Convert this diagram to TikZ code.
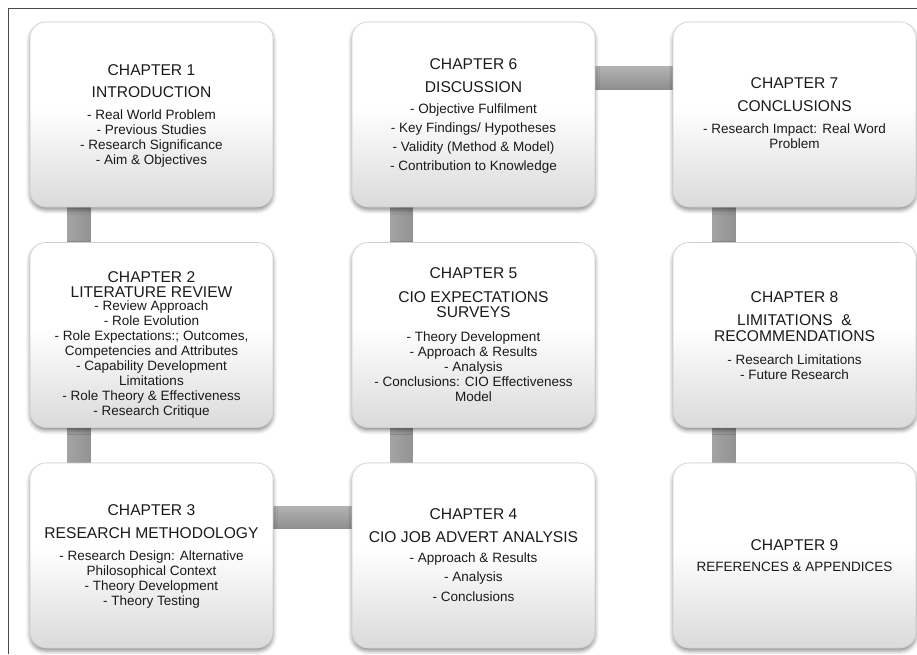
\documentclass[tikz,border=0pt]{standalone}
\usepackage{fontspec}
\setmainfont{Liberation Sans}
\usetikzlibrary{calc,shadows.blur}

\definecolor{boxbot}{HTML}{DADADA}
\definecolor{boxline}{HTML}{CFCFCF}
\definecolor{txtc}{HTML}{1A1A1A}
\definecolor{barL}{HTML}{A3A3A3}
\definecolor{barR}{HTML}{939393}
\definecolor{barT}{HTML}{B2B2B2}
\definecolor{barB}{HTML}{8E8E8E}
\definecolor{framec}{HTML}{4A4A4A}

% white upper half fading to light grey at the bottom edge
\pgfdeclareverticalshading{boxfill}{100bp}{color(0bp)=(boxbot); color(25bp)=(boxbot); color(52bp)=(white); color(100bp)=(white)}

\pgfdeclarelayer{background}
\pgfsetlayers{background,main}

\newcommand\chttl[1]{{\fontsize{15.6}{15}\selectfont #1}}

\tikzset{
  chapbox/.style={rounded corners=16pt, minimum width=243pt, minimum height=185pt,
    inner sep=0pt, shade, shading=boxfill, draw=boxline, line width=0.6pt,
    blur shadow={shadow xshift=0pt, shadow yshift=-3pt, shadow blur radius=4pt, shadow opacity=45}},
  chaptxt/.style={align=center, inner sep=0pt, text=txtc, font=\fontsize{13.5}{15}\selectfont},
  vbar/.style={left color=barL, right color=barR},
  hbar/.style={top color=barT, bottom color=barB},
}

\begin{document}
\begin{tikzpicture}[x=1pt,y=-1pt]
\useasboundingbox (0,0) rectangle (917,654);

% outer frame (top and left edges)
\draw[framec, line width=1pt] (8.5,654) -- (8.5,8.5) -- (917,8.5);

% chapter boxes
\node[chapbox] (c1) at (151.5,114.5) {};
\node[chapbox] (c6) at (473.5,114.5) {};
\node[chapbox] (c7) at (794.5,114.5) {};
\node[chapbox] (c2) at (151.5,335) {};
\node[chapbox] (c5) at (473.5,335) {};
\node[chapbox] (c8) at (794.5,335) {};
\node[chapbox] (c3) at (151.5,555.5) {};
\node[chapbox] (c4) at (473.5,555.5) {};
\node[chapbox] (c9) at (794.5,555.5) {};

% chapter texts
\node[chaptxt] (t1) at (151.5,116) {\chttl{CHAPTER 1}\\[7pt]\chttl{INTRODUCTION}\\[7pt]
  - Real World Problem\\- Previous Studies\\- Research Significance\\- Aim \& Objectives};
\node[chaptxt] (t6) at (473.5,116) {\chttl{CHAPTER 6}\\[8pt]\chttl{DISCUSSION}\\[6pt]
  - Objective Fulfilment\\[4pt]- Key Findings/ Hypotheses\\[4pt]- Validity (Method \& Model)\\[4pt]- Contribution to Knowledge};
\node[chaptxt] (t7) at (794.5,113) {\chttl{CHAPTER 7}\\[8pt]\chttl{CONCLUSIONS}\\[7pt]
  - Research Impact: Real Word\\Problem};
\node[chaptxt] (t2) at (151.5,345) {\chttl{CHAPTER 2}\\\chttl{LITERATURE REVIEW}\\[-2pt]
  - Review Approach\\- Role Evolution\\- Role Expectations:; Outcomes,\\Competencies and Attributes\\- Capability Development\\Limitations\\- Role Theory \& Effectiveness\\- Research Critique};
\node[chaptxt] (t5) at (473.5,335) {\chttl{CHAPTER 5}\\[9pt]\chttl{CIO EXPECTATIONS}\\\chttl{SURVEYS}\\[9pt]
  - Theory Development\\- Approach \& Results\\- Analysis\\- Conclusions: CIO Effectiveness\\Model};
\node[chaptxt] (t8) at (794.5,336) {\chttl{CHAPTER 8}\\[8pt]\chttl{LIMITATIONS \ \&}\\[1pt]\chttl{RECOMMENDATIONS}\\[8pt]
  - Research Limitations\\- Future Research};
\node[chaptxt] (t3) at (151.5,556) {\chttl{CHAPTER 3}\\[8pt]\chttl{RESEARCH METHODOLOGY}\\[7pt]
  - Research Design: Alternative\\Philosophical Context\\- Theory Development\\- Theory Testing};
\node[chaptxt] (t4) at (473.5,555) {\chttl{CHAPTER 4}\\[8pt]\chttl{CIO JOB ADVERT ANALYSIS}\\[5pt]
  - Approach \& Results\\[4.5pt]- Analysis\\[4.5pt]- Conclusions};
\node[chaptxt] (t9) at (794.5,555.5) {\chttl{CHAPTER 9}\\[6pt]REFERENCES \& APPENDICES};

% grey connector bars behind the boxes
\begin{pgfonlayer}{background}
  \shade[vbar] ($(c1.center)+(-84,0)$) rectangle ($(c2.center)+(-61,0)$);
  \shade[vbar] ($(c2.center)+(-84,0)$) rectangle ($(c3.center)+(-61,0)$);
  \shade[hbar] ($(c3.center)+(0,-49)$) rectangle ($(c4.center)+(0,-27)$);
  \shade[vbar] ($(c4.center)+(-83,0)$) rectangle ($(c5.center)+(-61,0)$);
  \shade[vbar] ($(c5.center)+(-83,0)$) rectangle ($(c6.center)+(-61,0)$);
  \shade[hbar] ($(c6.center)+(0,-48)$) rectangle ($(c7.center)+(0,-25)$);
  \shade[vbar] ($(c7.center)+(-82,0)$) rectangle ($(c8.center)+(-59,0)$);
  \shade[vbar] ($(c8.center)+(-82,0)$) rectangle ($(c9.center)+(-59,0)$);
\end{pgfonlayer}
\end{tikzpicture}
\end{document}
